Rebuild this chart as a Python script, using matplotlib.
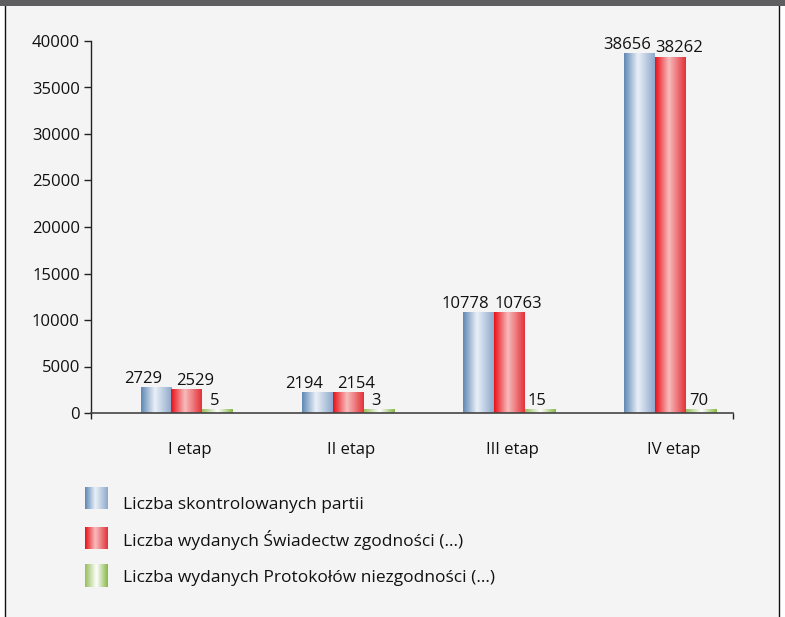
import numpy as np
import matplotlib.pyplot as plt
from matplotlib.colors import LinearSegmentedColormap
from matplotlib.patches import Rectangle

plt.rcParams['font.family'] = ['Open Sans', 'DejaVu Sans']

# data
stages = ['I etap', 'II etap', 'III etap', 'IV etap']
skontrolowane = [2729, 2194, 10778, 38656]
swiadectwa = [2529, 2154, 10763, 38262]
protokoly = [5, 3, 15, 70]
series_names = ['Liczba skontrolowanych partii',
                'Liczba wydanych Świadectw zgodności (...)',
                'Liczba wydanych Protokołów niezgodności (...)']

# cylinder-like horizontal gradients
cmaps = [
    LinearSegmentedColormap.from_list('b', [(0, '#6089b5'), (0.45, '#eaf0f8'), (1, '#8ea9cb')]),
    LinearSegmentedColormap.from_list('r', [(0, '#e8121a'), (0.45, '#f7bcbc'), (1, '#e2323a')]),
    LinearSegmentedColormap.from_list('g', [(0, '#97bf5c'), (0.5, '#ffffff'), (1, '#88b848')]),
]
grad = np.linspace(0, 1, 64).reshape(1, -1)

W, H = 785, 617
fig = plt.figure(figsize=(W / 100, H / 100), dpi=100, facecolor='white')

# panel frame and top band
fig.patches.append(Rectangle((4.5 / W, -0.01), 774 / W, 1.02, transform=fig.transFigure,
                             facecolor='#f4f4f4', edgecolor='#111111', lw=1.0, zorder=-5))
fig.patches.append(Rectangle((0, 1 - 6 / H), 1, 6 / H, transform=fig.transFigure,
                             facecolor='#5e5e60', edgecolor='none', zorder=-4))

ax = fig.add_axes([91 / W, 1 - 413 / H, 642 / W, 372 / H])
ax.set_facecolor('none')

x = np.arange(len(stages))
bw = 0.192
offsets = [-bw, 0, bw]
values = [skontrolowane, swiadectwa, protokoly]
label_dx = [-9.5, 6.0, -2.5]  # points, keeps labels apart
MIN_BAR_PX = 3.5
px_to_data = 40000 / 372

for vals, off, cmap, dx in zip(values, offsets, cmaps, label_dx):
    bars = ax.bar(x + off, vals, bw, color='none', edgecolor='none', zorder=2)
    for rect, v in zip(bars, vals):
        x0, w, h = rect.get_x(), rect.get_width(), rect.get_height()
        top = max(h, MIN_BAR_PX * px_to_data)
        ax.imshow(grad, extent=[x0, x0 + w, 0, top], aspect='auto', cmap=cmap,
                  interpolation='bilinear', zorder=2)
        ax.annotate(str(v), (x0 + w / 2, top), xytext=(dx, 0.5), textcoords='offset points',
                    ha='center', va='bottom', fontsize=12, color='#111111', zorder=3)

ax.set_xlim(-0.595, 3.385)
ax.set_ylim(0, 40000)
ax.set_yticks(range(0, 40001, 5000))
ax.set_xticks(x + 0.02)
ax.set_xticklabels(stages)
ax.set_xticks([-0.595, 3.385], minor=True)
ax.tick_params(axis='x', which='major', length=0, pad=21, labelsize=12, labelcolor='#111111')
ax.tick_params(axis='x', which='minor', length=4, width=1.0, direction='out', color='#222222')
ax.tick_params(axis='y', length=5, width=1.0, pad=3, labelsize=12, labelcolor='#111111', color='#222222')
for s in ['top', 'right']:
    ax.spines[s].set_visible(False)
ax.spines['left'].set_color('#222222')
ax.spines['bottom'].set_color('#444444')
ax.spines['left'].set_linewidth(1.0)
ax.spines['bottom'].set_linewidth(1.2)

# legend: swatch centres and text baselines (pixels from top)
swatch_y = [498, 538, 575.5]
text_base = [509, 546, 582]
for name, cmap, yc, yb in zip(series_names, cmaps, swatch_y, text_base):
    sw = fig.add_axes([85 / W, 1 - (yc + 11.5) / H, 23 / W, 23 / H])
    sw.imshow(grad, aspect='auto', cmap=cmap, interpolation='bilinear')
    sw.axis('off')
    fig.text(123 / W, 1 - yb / H, name, ha='left', va='baseline',
             fontsize=12.5, color='#111111')

fig.savefig('out.png', dpi=100, facecolor=fig.get_facecolor())
